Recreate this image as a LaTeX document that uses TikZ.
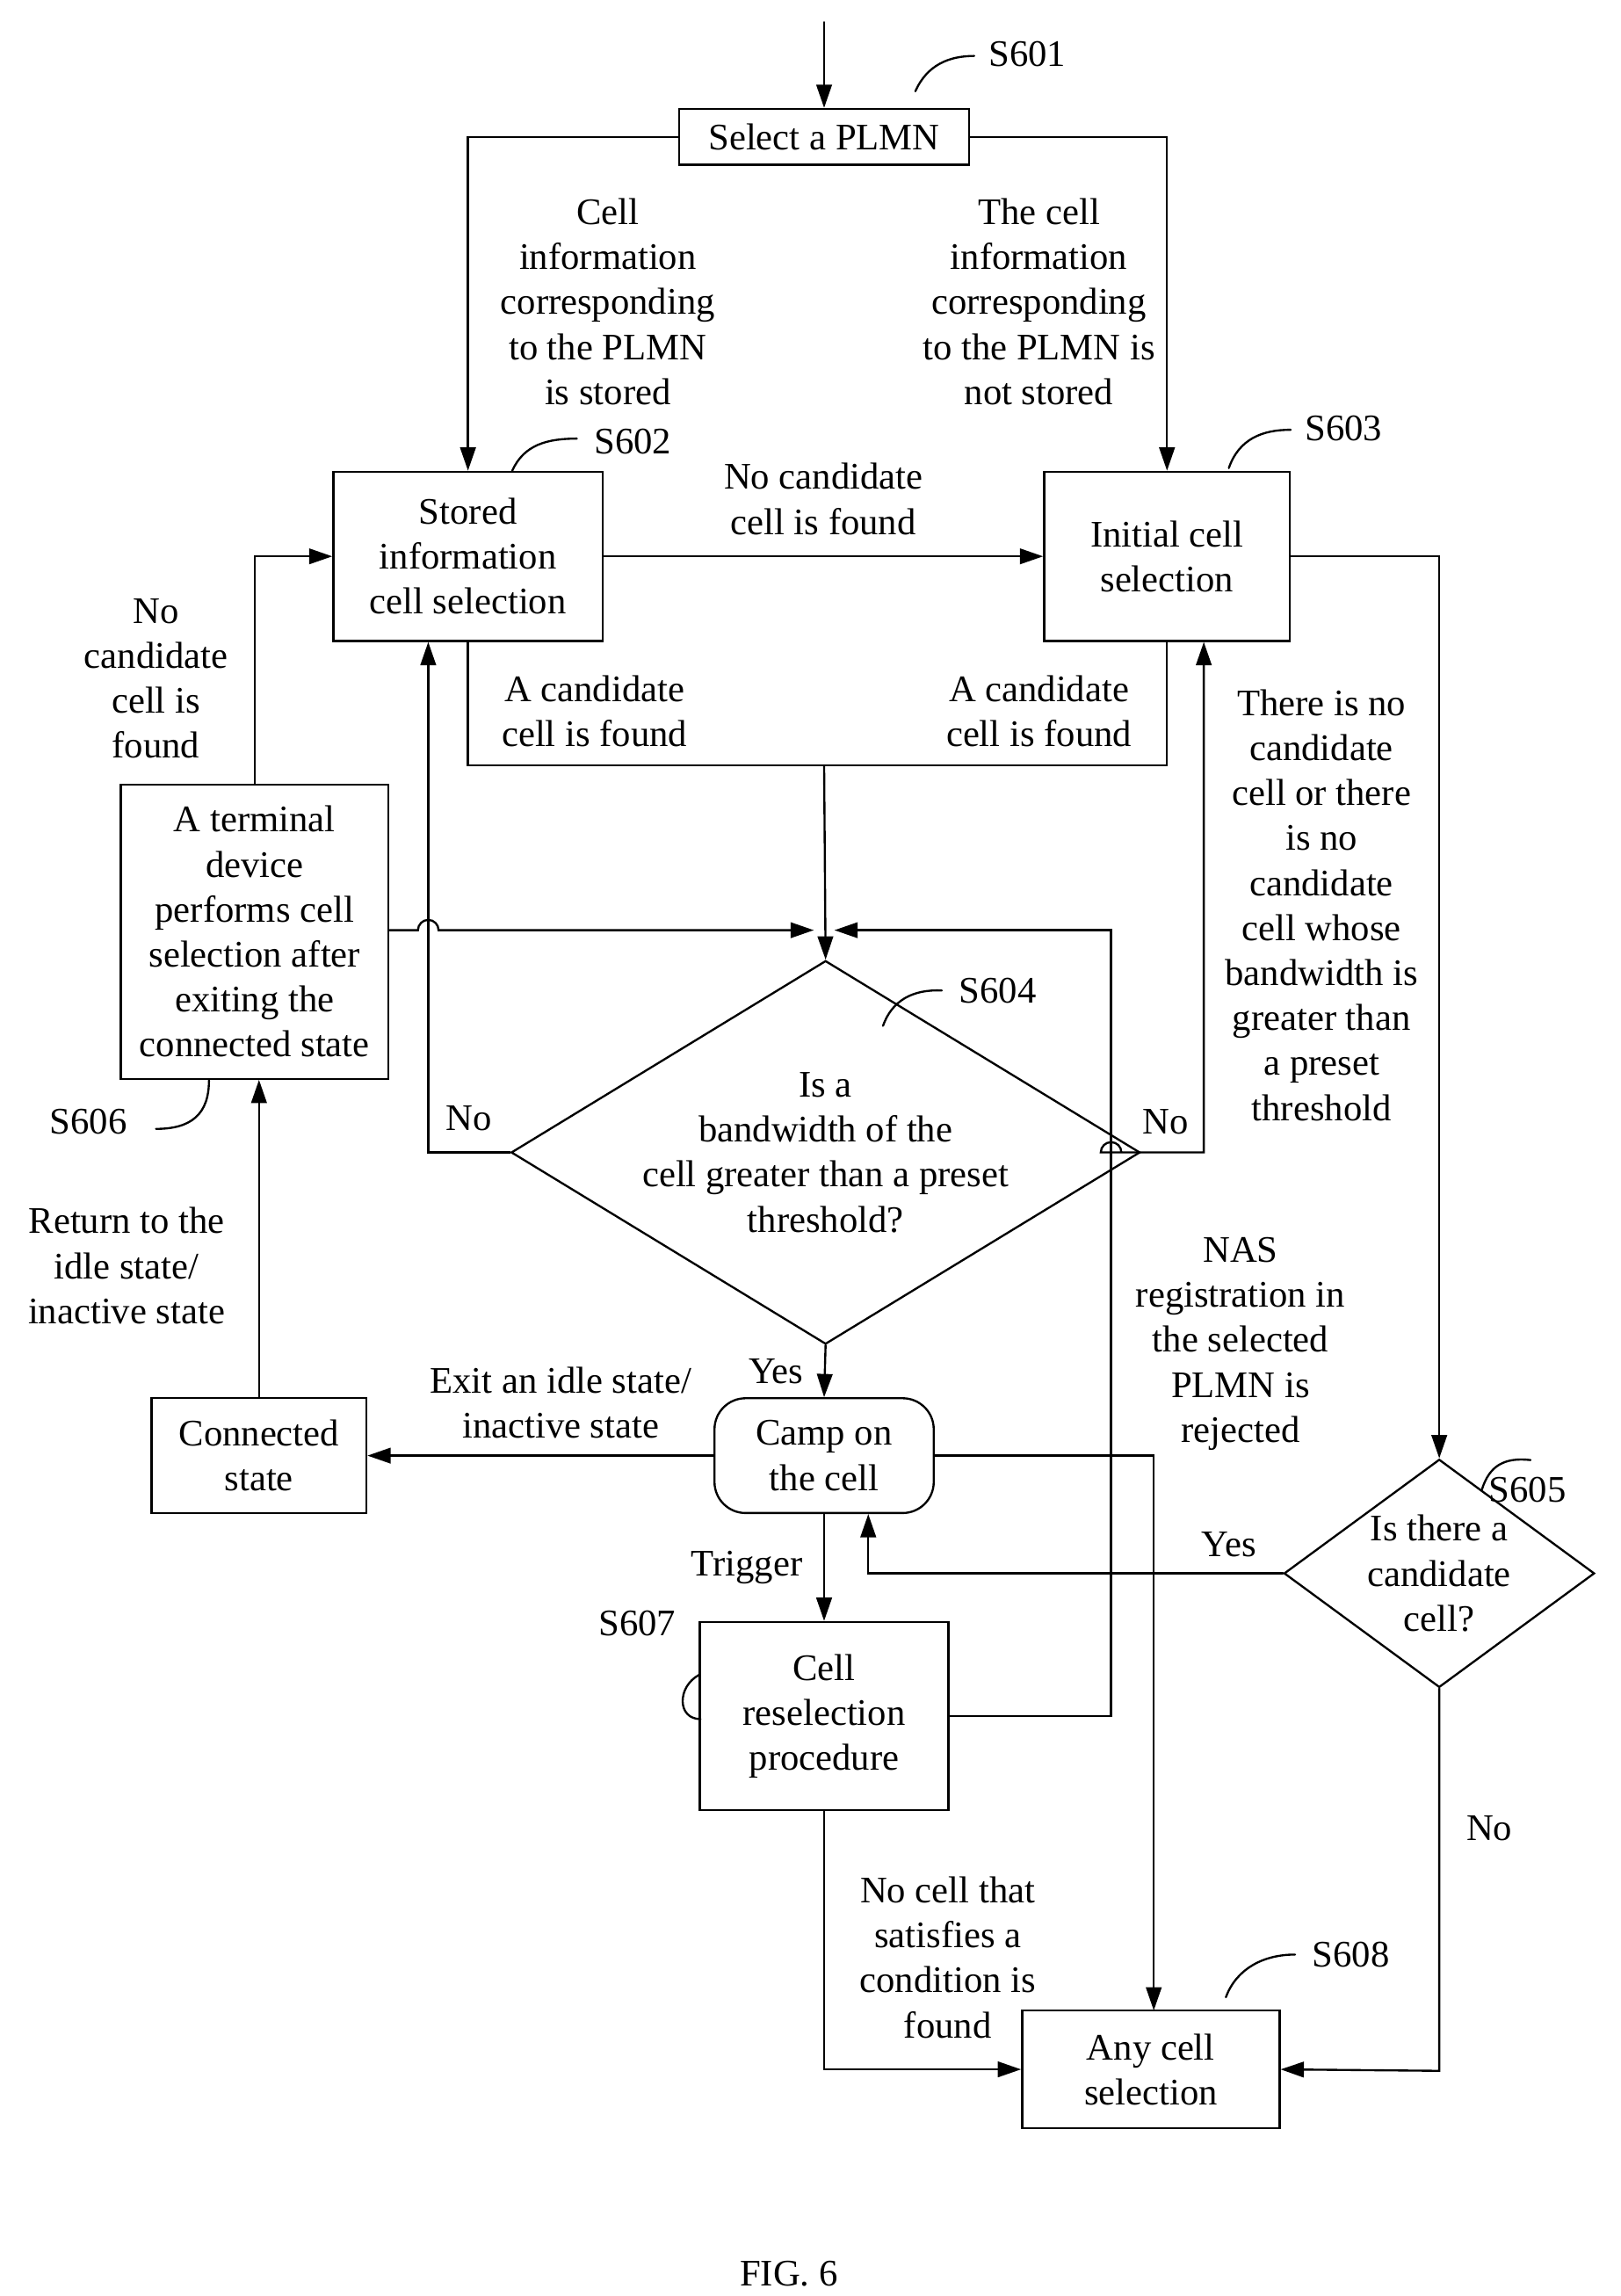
\documentclass[tikz,border=0pt]{standalone}
\usepackage{fontspec}
\setmainfont{Liberation Serif}
\usetikzlibrary{arrows.meta,shapes.geometric}
\begin{document}
\begin{tikzpicture}[x=0.02cm, y=-0.02cm, thick, line cap=round,
  every node/.style={font=\fontsize{14.5}{17.4}\selectfont, align=center},
  box/.style={draw, inner sep=0pt},
  txt/.style={inner sep=0pt},
  >={Triangle[length=9pt,width=6pt]}]

\useasboundingbox (0,0) rectangle (1101,1560);

% Boxes
\node[box, minimum width=3.94cm, minimum height=0.76cm] (s601) at (560,93) {Select a PLMN};
\node[box, minimum width=3.66cm, minimum height=2.3cm] (s602) at (318,378) {Stored\\information\\cell selection};
\node[box, minimum width=3.34cm, minimum height=2.3cm] (s603) at (793,378) {Initial cell\\selection};
\node[box, minimum width=3.64cm, minimum height=4cm] (s606) at (173,633) {A terminal\\device\\performs cell\\selection after\\exiting the\\connected state};
\node[draw, diamond, aspect=1.64, minimum width=7.14cm, minimum height=4.34cm, inner sep=0pt] (s604) at (561,783) {Is a\\bandwidth of the\\cell greater than a preset\\threshold?};
\node[draw, diamond, aspect=1.34, minimum width=4.22cm, minimum height=3.1cm, inner sep=0pt] (s605) at (978,1069) {Is there a\\candidate\\cell?};
\node[box, rounded corners=12pt, minimum width=2.98cm, minimum height=1.56cm] (camp) at (560,989) {Camp on\\the cell};
\node[box, minimum width=2.92cm, minimum height=1.56cm] (conn) at (176,989) {Connected\\state};
\node[box, minimum width=3.38cm, minimum height=2.56cm] (s607) at (560,1166) {Cell\\reselection\\procedure};
\node[box, minimum width=3.5cm, minimum height=1.6cm] (s608) at (782,1406) {Any cell\\selection};

% Step labels
\node[txt] (l601) at (698,37) {S601};
\node[txt] (l602) at (430,300) {S602};
\node[txt] (l603) at (913,291) {S603};
\node[txt] (l604) at (678,673) {S604};
\node[txt] (l605) at (1038,1012) {S605};
\node[txt] (l606) at (60,762) {S606};
\node[txt] (l607) at (433,1103) {S607};
\node[txt] (l608) at (918,1328) {S608};
\draw (622,62) .. controls (630,44) and (645,38) .. (662,38);
\draw (348,320) .. controls (356,302) and (372,298) .. (392,298);
\draw (835,318) .. controls (842,298) and (858,292) .. (877,292);
\draw (600,697) .. controls (606,680) and (620,672) .. (640,673);
\draw (1007,1012) .. controls (1012,996) and (1022,990) .. (1040,992) coordinate (h605);
\draw (106,767) .. controls (130,767) and (142,757) .. (142,734);
\draw (475,1138) .. controls (460,1146) and (460,1168) .. (476,1168);
\draw (833,1357) .. controls (840,1338) and (858,1328) .. (880,1328);

% Connectors
\coordinate (top) at (560,15);
\draw[->] (top) -- (s601);
\draw[->] (s601.west) -| (s602.north);
\draw[->] (s601.east) -| (s603.north);
\node[txt] at (413,205) {Cell\\information\\corresponding\\to the PLMN\\is stored};
\node[txt] at (706,205) {The cell\\information\\corresponding\\to the PLMN is\\not stored};
\draw[->] (s602) -- node[txt, above=8pt] {No candidate\\cell is found} (s603);
\draw (s602.south) |- (560,520) -| (s603.south);
\node[txt] at (404,483) {A candidate\\cell is found};
\node[txt] at (706,483) {A candidate\\cell is found};
\draw[->] (560,520) -- (s604.north);
\draw[->] (s604.west) -- node[txt, above=8pt, pos=0.5] {No} (291,783) -- (s602.south -| 291,0);
\draw[->] (s604.east) -- (748,783) arc (180:360:7) -- (818,783) -- (s603.south -| 818,0);
\node[txt] at (792,762) {No};
\node[txt] at (898,615) {There is no\\candidate\\cell or there\\is no\\candidate\\cell whose\\bandwidth is\\greater than\\a preset\\threshold};
\draw[->] (s603.east) -| (s605.north);
\draw[->] (s605.west) -- node[txt, above=6pt, pos=0.13] {Yes} (590,1069) -- (camp.south -| 590,0);
\draw[->] (s605.south) -- (978,1407) -- (s608.east);
\node[txt] at (1012,1242) {No};
\draw[->] (s606.north) |- (s602.west);
\node[txt] at (106,461) {No\\candidate\\cell is\\found};
\draw[->] (s606.east |- 0,632) -- (284,632) arc (180:360:7) -- (553,632);
\draw[->] (s604.south) -- node[txt, left=8pt] {Yes} (camp.north);
\draw[->] (camp.west) -- (conn.east);
\node[txt] at (381,953) {Exit an idle state/\\inactive state};
\draw[->] (conn.north) -- (s606.south -| conn.north);
\node[txt] at (86,860) {Return to the\\idle state/\\inactive state};
\draw[->] (camp.east) -| (784,1366);
\node[txt] at (843,913) {NAS\\registration in\\the selected\\PLMN is\\rejected};
\draw[->] (camp.south) -- node[txt, left=8pt] {Trigger} (s607.north);
\draw[->] (s607.east) -- (755,1166) -- (755,632) -- (567,632);
\draw[->] (s607.south) |- (s608.west);
\node[txt] at (644,1330) {No cell that\\satisfies a\\condition is\\found};

\node[txt] at (536,1545) {FIG. 6};
\end{tikzpicture}
\end{document}
